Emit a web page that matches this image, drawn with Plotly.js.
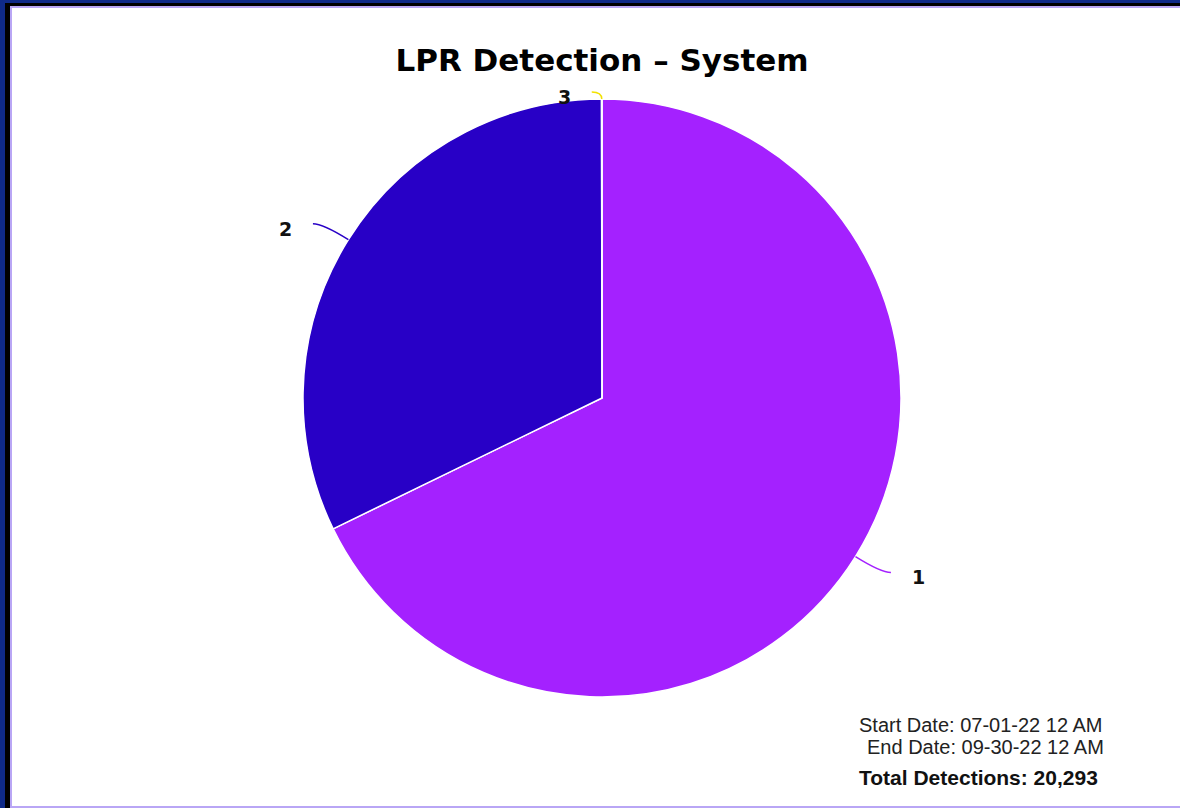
<!DOCTYPE html>
<html>
<head>
<meta charset="utf-8">
<script src="https://cdn.plot.ly/plotly-3.0.1.min.js"></script>
<style>
  html, body { margin: 0; padding: 0; width: 1180px; height: 808px; overflow: hidden; background: #0f2a88; }
  #frame { position: absolute; left: 5px; top: 3px; width: 1175px; height: 805px; background: #000; }
  #inner { position: absolute; left: 10px; top: 6px; width: 1170px; height: 802px; background: #b9a6f5; }
  #chart { position: absolute; left: 12px; top: 8px; width: 1168px; height: 798px; background: #fff; }
</style>
</head>
<body>
<div id="frame"></div>
<div id="inner"></div>
<div id="chart"></div>
<script>
// ---- data ----
const chartTitle = "LPR Detection – System";
const sliceLabels = ["1", "2", "3"];
const sliceValues = [13757, 6531, 5];
const sliceColors = ["#a421ff", "#2800c6", "#f2e200"];
const infoLines = ["Start Date: 07-01-22 12 AM", "End Date: 09-30-22 12 AM"];
const totalLabel = "Total Detections: ";

// ---- layout geometry (div pixels) ----
const W = 1168, H = 798;
const cx = 590, cy = 390, R = 299;
const dist = 30, plotTop = 84;
const px = x => x / W;
const py = y => 1 - y / H;

const total = sliceValues.reduce((a, b) => a + b, 0);

const shapes = [];
const annotations = [];
let cum = 0;
sliceValues.forEach((v, i) => {
  const mid = (cum + v / 2) / total * 2 * Math.PI; // clockwise from 12 o'clock
  cum += v;
  const s = Math.sin(mid), c = Math.cos(mid);
  const side = s >= 0 ? 1 : -1;
  const ex = cx + R * s, ey = cy - R * c;
  let ox = cx + (R + dist) * s, oy = cy - (R + dist) * c;
  if (oy < plotTop) oy = plotTop;
  const tx = ox + side * 10, ty = oy;
  shapes.push({
    type: 'path', xref: 'paper', yref: 'paper',
    path: `M ${px(ex)} ${py(ey)} Q ${px(ox)} ${py(oy)} ${px(tx)} ${py(ty)}`,
    line: { color: sliceColors[i], width: 1.5 }
  });
  annotations.push({
    xref: 'paper', yref: 'paper', showarrow: false,
    x: px(tx + side * 19), y: py(ty + 5),
    xanchor: side > 0 ? 'left' : 'right', yanchor: 'middle',
    text: '<b>' + sliceLabels[i] + '</b>',
    font: { family: 'DejaVu Sans', size: 19, color: '#111' }
  });
});

annotations.push({
  xref: 'paper', yref: 'paper', showarrow: false,
  x: px(1092), y: py(717), xanchor: 'right', yanchor: 'middle',
  text: infoLines[0], font: { family: 'Liberation Sans, Arial', size: 20, color: '#222' }
});
annotations.push({
  xref: 'paper', yref: 'paper', showarrow: false,
  x: px(1094), y: py(739), xanchor: 'right', yanchor: 'middle',
  text: infoLines[1], font: { family: 'Liberation Sans, Arial', size: 20, color: '#222' }
});
annotations.push({
  xref: 'paper', yref: 'paper', showarrow: false,
  x: px(1088), y: py(769), xanchor: 'right', yanchor: 'middle',
  text: '<b>' + totalLabel + total.toLocaleString('en-US') + '</b>',
  font: { family: 'Liberation Sans, Arial', size: 21, color: '#111' }
});

const trace = {
  type: 'pie',
  labels: sliceLabels,
  values: sliceValues,
  sort: false,
  direction: 'clockwise',
  rotation: 0,
  textinfo: 'none',
  hoverinfo: 'label+value+percent',
  marker: { colors: sliceColors, line: { color: '#ffffff', width: 1.5 } },
  domain: { x: [px(cx - R), px(cx + R)], y: [py(cy + R), py(cy - R)] },
  showlegend: false
};

const layout = {
  width: W, height: H,
  margin: { l: 0, r: 0, t: 0, b: 0 },
  paper_bgcolor: '#ffffff',
  title: {
    text: '<b>' + chartTitle + '</b>',
    xref: 'container', yref: 'container',
    x: px(590), y: py(52), xanchor: 'center', yanchor: 'middle',
    font: { family: 'DejaVu Sans', size: 31, color: '#000' }
  },
  shapes: shapes,
  annotations: annotations,
  showlegend: false
};

Plotly.newPlot('chart', [trace], layout, { displayModeBar: false });
</script>
</body>
</html>
